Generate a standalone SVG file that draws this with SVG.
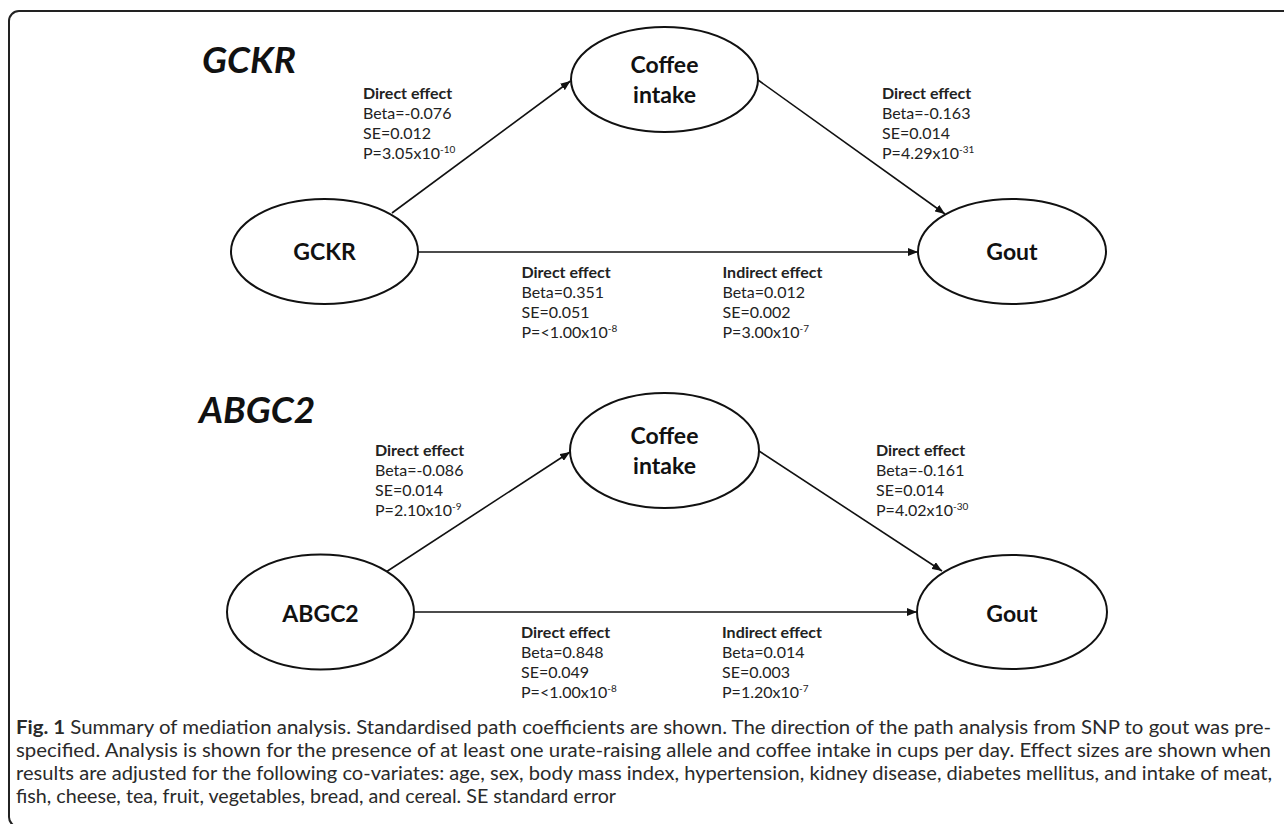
<svg xmlns="http://www.w3.org/2000/svg" width="1284" height="824" viewBox="0 0 1284 824">
<style>
  .node { fill: #ffffff; stroke: #111; stroke-width: 2; }
  .ntext { font-family: Lato, "Open Sans", sans-serif; font-weight: bold; font-size: 23px; fill: #111; text-anchor: middle; }
  .title { font-family: Lato, "Open Sans", sans-serif; font-weight: bold; font-style: italic; font-size: 37px; fill: #111; }
  .lbl { font-family: Lato, "Open Sans", sans-serif; font-size: 16px; fill: #222; }
  .lbl .h { font-weight: bold; }
  .sup { font-size: 10px; }
  .edge { stroke: #111; stroke-width: 1.6; fill: none; marker-end: url(#arr); }
  .cap { font-family: Lato, "Open Sans", sans-serif; font-size: 18.5px; fill: #2a2a2a; }
</style>
<defs>
  <marker id="arr" markerUnits="userSpaceOnUse" markerWidth="11" markerHeight="8" refX="10" refY="4" orient="auto">
    <path d="M0,0 L10,4 L0,8 z" fill="#111"/>
  </marker>
</defs>
<rect x="0" y="0" width="1284" height="824" fill="#ffffff"/>
<rect x="9" y="11" width="1300" height="816" rx="10" ry="10" fill="none" stroke="#222" stroke-width="2"/>

<g id="connectors">
  <line class="edge" x1="392" y1="213" x2="570.5" y2="81"/>
  <line class="edge" x1="758" y1="80" x2="945" y2="214"/>
  <line class="edge" x1="418" y1="252" x2="918" y2="252"/>
  <line class="edge" x1="386" y1="572" x2="570" y2="452"/>
  <line class="edge" x1="759" y1="451" x2="942" y2="571"/>
  <line class="edge" x1="414" y1="612" x2="917" y2="612"/>
</g>

<g id="title-gckr"><text class="title" x="202" y="73">GCKR</text></g>
<g id="title-abgc2"><text class="title" x="199" y="423">ABGC2</text></g>

<g id="node-coffee1">
  <ellipse class="node" cx="664.5" cy="79.5" rx="93.5" ry="52.5"/>
  <text class="ntext" x="664.5" y="73">Coffee</text>
  <text class="ntext" x="664.5" y="103">intake</text>
</g>
<g id="node-gckr">
  <ellipse class="node" cx="324.5" cy="251.5" rx="93.5" ry="52.5"/>
  <text class="ntext" x="324.5" y="260">GCKR</text>
</g>
<g id="node-gout1">
  <ellipse class="node" cx="1012" cy="251.5" rx="94" ry="52.5"/>
  <text class="ntext" x="1012" y="260">Gout</text>
</g>

<g id="node-coffee2">
  <ellipse class="node" cx="664.5" cy="450.5" rx="94.5" ry="57.5"/>
  <text class="ntext" x="664.5" y="444">Coffee</text>
  <text class="ntext" x="664.5" y="474">intake</text>
</g>
<g id="node-abgc2">
  <ellipse class="node" cx="320.5" cy="612" rx="93.5" ry="57.5"/>
  <text class="ntext" x="320.5" y="622">ABGC2</text>
</g>
<g id="node-gout2">
  <ellipse class="node" cx="1012" cy="612" rx="95" ry="57"/>
  <text class="ntext" x="1012" y="622">Gout</text>
</g>

<g id="labels-gckr">
  <text class="lbl" x="363" y="99"><tspan class="h">Direct effect</tspan></text>
  <text class="lbl" x="363" y="119">Beta=-0.076</text>
  <text class="lbl" x="363" y="139">SE=0.012</text>
  <text class="lbl" x="363" y="159">P=3.05x10<tspan class="sup" dy="-6">-10</tspan></text>

  <text class="lbl" x="882" y="99"><tspan class="h">Direct effect</tspan></text>
  <text class="lbl" x="882" y="119">Beta=-0.163</text>
  <text class="lbl" x="882" y="139">SE=0.014</text>
  <text class="lbl" x="882" y="159">P=4.29x10<tspan class="sup" dy="-6">-31</tspan></text>

  <text class="lbl" x="521.5" y="278"><tspan class="h">Direct effect</tspan></text>
  <text class="lbl" x="521.5" y="298">Beta=0.351</text>
  <text class="lbl" x="521.5" y="318">SE=0.051</text>
  <text class="lbl" x="521.5" y="338">P=&lt;1.00x10<tspan class="sup" dy="-6">-8</tspan></text>

  <text class="lbl" x="722.5" y="278"><tspan class="h">Indirect effect</tspan></text>
  <text class="lbl" x="722.5" y="298">Beta=0.012</text>
  <text class="lbl" x="722.5" y="318">SE=0.002</text>
  <text class="lbl" x="722.5" y="338">P=3.00x10<tspan class="sup" dy="-6">-7</tspan></text>
</g>

<g id="labels-abgc2">
  <text class="lbl" x="375" y="456"><tspan class="h">Direct effect</tspan></text>
  <text class="lbl" x="375" y="476">Beta=-0.086</text>
  <text class="lbl" x="375" y="496">SE=0.014</text>
  <text class="lbl" x="375" y="516">P=2.10x10<tspan class="sup" dy="-6">-9</tspan></text>

  <text class="lbl" x="876" y="456"><tspan class="h">Direct effect</tspan></text>
  <text class="lbl" x="876" y="476">Beta=-0.161</text>
  <text class="lbl" x="876" y="496">SE=0.014</text>
  <text class="lbl" x="876" y="516">P=4.02x10<tspan class="sup" dy="-6">-30</tspan></text>

  <text class="lbl" x="521" y="638"><tspan class="h">Direct effect</tspan></text>
  <text class="lbl" x="521" y="658">Beta=0.848</text>
  <text class="lbl" x="521" y="678">SE=0.049</text>
  <text class="lbl" x="521" y="698">P=&lt;1.00x10<tspan class="sup" dy="-6">-8</tspan></text>

  <text class="lbl" x="722" y="638"><tspan class="h">Indirect effect</tspan></text>
  <text class="lbl" x="722" y="658">Beta=0.014</text>
  <text class="lbl" x="722" y="678">SE=0.003</text>
  <text class="lbl" x="722" y="698">P=1.20x10<tspan class="sup" dy="-6">-7</tspan></text>
</g>

<g id="caption">
  <text class="cap" x="16" y="734" textLength="1255" lengthAdjust="spacingAndGlyphs"><tspan font-weight="bold">Fig. 1</tspan> Summary of mediation analysis. Standardised path coefficients are shown. The direction of the path analysis from SNP to gout was pre-</text>
  <text class="cap" x="16" y="757" textLength="1255" lengthAdjust="spacingAndGlyphs">specified. Analysis is shown for the presence of at least one urate-raising allele and coffee intake in cups per day. Effect sizes are shown when</text>
  <text class="cap" x="16" y="780" textLength="1256" lengthAdjust="spacingAndGlyphs">results are adjusted for the following co-variates: age, sex, body mass index, hypertension, kidney disease, diabetes mellitus, and intake of meat,</text>
  <text class="cap" x="16" y="803" textLength="600" lengthAdjust="spacingAndGlyphs">fish, cheese, tea, fruit, vegetables, bread, and cereal. SE standard error</text>
</g>
</svg>
